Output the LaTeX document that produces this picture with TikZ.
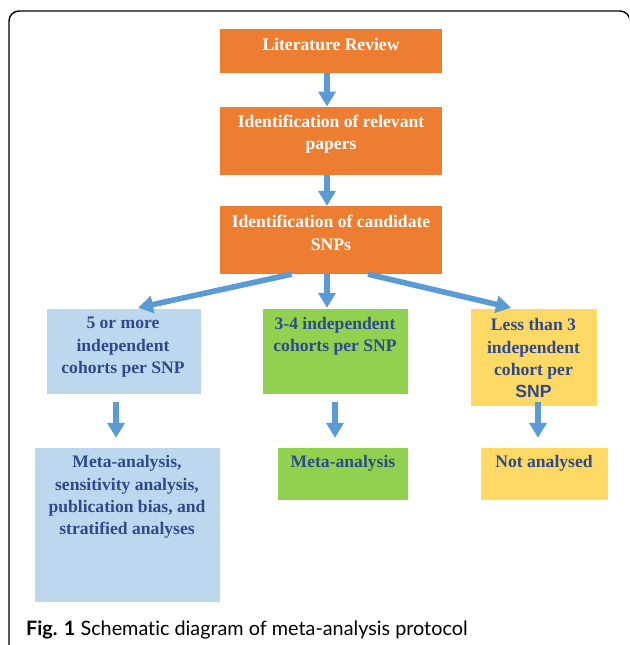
\documentclass[tikz,border=0pt]{standalone}
\usepackage{fontspec}
\setmainfont{Liberation Serif}
\newfontfamily\capfont[Ligatures=NoCommon]{Lato}
\newfontfamily\sansfnt{Liberation Sans}
\usetikzlibrary{arrows.meta,calc}
\definecolor{orng}{HTML}{ED7D31}
\definecolor{lblue}{HTML}{BDD7EE}
\definecolor{lgreen}{HTML}{92D050}
\definecolor{lyellow}{HTML}{FFD966}
\definecolor{arrblue}{HTML}{5B9BD5}
\definecolor{navy}{HTML}{2E4A8C}
\begin{document}
\begin{tikzpicture}[x=1pt,y=-1pt,
  boxbase/.style={draw=none, inner sep=0pt, rectangle},
  obox/.style={boxbase, fill=orng},
  bbox/.style={boxbase, fill=lblue},
  gbox/.style={boxbase, fill=lgreen},
  ybox/.style={boxbase, fill=lyellow},
  txtbase/.style={inner sep=0pt, align=center, font=\fontsize{17.6}{22.3}\selectfont\bfseries},
  wtxt/.style={txtbase, text=white},
  ntxt/.style={txtbase, text=navy},
  arr/.style={draw=arrblue, line width=5.6pt, -{Triangle[width=17pt,length=15pt]}},
  frame/.style={draw=black, line width=1.4pt, rounded corners=10pt}
]
\useasboundingbox (0,0) rectangle (629,645);
\fill[white] (0,0) rectangle (629,645);
\begin{scope}
\clip (0,0) rectangle (629,645);
\draw[frame] (9,680) -- (9,11) -- (630,11) -- (630,680);
\end{scope}

% boxes
\node[obox, minimum width=222pt, minimum height=44pt] (b1) at (331,50.7) {};
\node[obox, minimum width=222pt, minimum height=68.3pt] (b2) at (331,140.85) {};
\node[obox, minimum width=222pt, minimum height=68pt] (b3) at (331,240) {};
\node[bbox, minimum width=154.1pt, minimum height=85pt] (l1) at (123.55,351.5) {};
\node[gbox, minimum width=145.3pt, minimum height=85pt] (m1) at (335.35,351.5) {};
\node[ybox, minimum width=126pt, minimum height=97pt] (r1) at (533.5,357.5) {};
\node[bbox, minimum width=184.5pt, minimum height=154pt] (l2) at (127.55,524.7) {};
\node[gbox, minimum width=130pt, minimum height=52.3pt] (m2) at (343,473.85) {};
\node[ybox, minimum width=126.7pt, minimum height=52.3pt] (r2) at (544.35,473.85) {};

% texts
\node[wtxt] (t1) at (331,44.7) {Literature Review};
\node[wtxt] (t2) at (331,134) {Identification of relevant\\papers};
\node[wtxt] (t3) at (331,233) {Identification of candidate\\SNPs};
\node[ntxt] (tl1) at (123,347.3) {5 or more\\independent\\cohorts per SNP};
\node[ntxt] (tm1) at (335,336.2) {3-4 independent\\cohorts per SNP};
\node[ntxt] (tr1) at (533.5,358.4) {Less than 3\\independent\\cohort per\\{\sansfnt SNP}};
\node[ntxt] (tl2) at (127,497) {Meta-analysis,\\sensitivity analysis,\\publication bias, and\\stratified analyses};
\node[ntxt] (tm2) at (343,463.3) {Meta-analysis};
\node[ntxt] (tr2) at (544,463.3) {Not analysed};

% arrows
\draw[arr] ([xshift=-4pt]b1.south) -- ([xshift=-4pt]b2.north);
\draw[arr] ([xshift=-4pt]b2.south) -- ([xshift=-4pt]b3.north);
\draw[arr] ([xshift=-39.4pt]b3.south) -- ([xshift=14.5pt,yshift=1pt]l1.north);
\draw[arr] ([xshift=-4pt]b3.south) -- ([xshift=-8.35pt,yshift=1pt]m1.north);
\draw[arr] ([xshift=37pt]b3.south) -- ([xshift=-22.5pt,yshift=1pt]r1.north);
\draw[arr] ([xshift=-7.5pt,yshift=-7.7pt]l1.south) -- ([xshift=-11.5pt,yshift=9.7pt]l2.north);
\draw[arr] ([xshift=-0.35pt,yshift=-7.7pt]m1.south) -- ([xshift=-8pt,yshift=9.7pt]m2.north);
\draw[arr] ([xshift=4.5pt,yshift=4.3pt]r1.south) -- ([xshift=-6.35pt,yshift=9.7pt]r2.north);

% caption
\node[anchor=base west, inner sep=0pt, font=\capfont\fontsize{19.8}{22}\selectfont] (cap) at (26,635) {\textbf{Fig. 1} Schematic diagram of meta-analysis protocol};
\end{tikzpicture}
\end{document}
